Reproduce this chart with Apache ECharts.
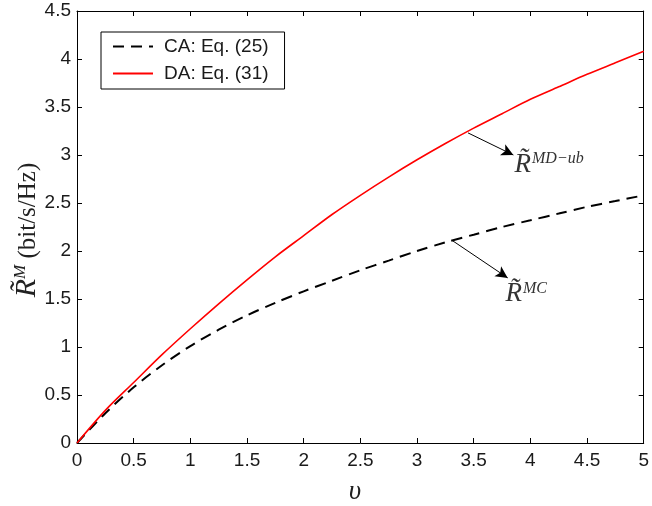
<!DOCTYPE html>
<html>
<head>
<meta charset="utf-8">
<script src="https://cdn.jsdelivr.net/npm/echarts@6/dist/echarts.min.js"></script>
<style>html,body{margin:0;padding:0;background:#fff}#c{width:652px;height:506px}</style>
</head>
<body>
<div id="c"></div>
<script>
// ---- data ----
var nu = [0,0.25,0.5,0.75,1,1.25,1.5,1.75,2,2.25,2.5,2.75,3,3.25,3.5,3.75,4,4.25,4.5,4.75,5];
var caValues = [0,0.31,0.58,0.81,1.01,1.18,1.33,1.46,1.58,1.69,1.80,1.90,2.00,2.09,2.17,2.25,2.32,2.39,2.46,2.52,2.58];
var daValues = [0,0.34,0.63,0.92,1.19,1.45,1.70,1.94,2.16,2.38,2.58,2.77,2.95,3.12,3.28,3.43,3.58,3.71,3.84,3.96,4.08];
var seriesNames = ['CA: Eq. (25)', 'DA: Eq. (31)'];
var xTickLabels = ['0','0.5','1','1.5','2','2.5','3','3.5','4','4.5','5'];
var yTickLabels = ['0','0.5','1','1.5','2','2.5','3','3.5','4','4.5'];

function pairs(xs, ys){ return xs.map(function(x,i){ return [x, ys[i]]; }); }

var chart = echarts.init(document.getElementById('c'), null, {renderer:'canvas'});
var tickFont = {fontFamily:'Liberation Sans, Arial, sans-serif', fontSize:19, color:'#1a1a1a'};
var serif = 'Liberation Serif, Times New Roman, serif';
var richR = {
  r:{fontFamily:serif, fontStyle:'italic', fontSize:27, color:'#333'},
  s:{fontFamily:serif, fontStyle:'italic', fontSize:16, color:'#333', verticalAlign:'top', padding:[0,0,0,1]}
};

function axisBase(pos, isX, showLabel){
  return {
    type:'value', position:pos, min:0, max: isX?5:4.5, interval:0.5,
    axisLine:{show:true, onZero:false, lineStyle:{color:'#000', width:1}},
    axisTick:{show:true, inside:true, length:5, lineStyle:{color:'#000'}},
    splitLine:{show:false},
    axisLabel: showLabel ? Object.assign({show:true, margin: isX?8:6,
      formatter:function(v){ var arr = isX?xTickLabels:yTickLabels; var idx=Math.round(v/0.5); return arr[idx]; }}, tickFont) : {show:false}
  };
}

chart.setOption({
  animation:false,
  backgroundColor:'#fff',
  grid:{left:77, top:11, right:6, bottom:63, containLabel:false},
  xAxis:[axisBase('bottom', true, true), axisBase('top', true, false)],
  yAxis:[axisBase('left', false, true), axisBase('right', false, false)],
  legend:{
    orient:'vertical', left:101, top:32,
    data:seriesNames,
    itemWidth:40, itemHeight:20, itemGap:8,
    padding:[5,16,6,11],
    borderColor:'#000', borderWidth:1, backgroundColor:'#fff',
    itemStyle:{opacity:0},
    textStyle:{fontFamily:'Liberation Sans, Arial, sans-serif', fontSize:19, color:'#1a1a1a', padding:[0,0,0,6]}
  },
  graphic:[
    {type:'text', x:27, y:230, rotation:Math.PI/2,
     style:{text:'{r|R\u0303}{s|M}{t| (bit/s/Hz)}', align:'center', verticalAlign:'middle',
       rich:{r:{fontFamily:serif, fontStyle:'italic', fontSize:30, fill:'#222', verticalAlign:'bottom'},
             s:{fontFamily:serif, fontStyle:'italic', fontSize:17, fill:'#222', verticalAlign:'top'},
             t:{fontFamily:serif, fontSize:25, fill:'#222', verticalAlign:'bottom', padding:[0,0,1,0]}}}},
    {type:'text', x:355, y:492,
     style:{text:'\u03c5', font:'italic 27px Liberation Serif, serif', fill:'#222', align:'center', verticalAlign:'middle'}}
  ],
  series:[
    {name:seriesNames[0], type:'line', data:pairs(nu, caValues), smooth:0.3, symbol:'none',
     lineStyle:{color:'#000', width:2, type:[11,7]}, itemStyle:{color:'#000'},
     markLine:{silent:true, symbol:['none','arrow'], symbolSize:[9,12],
       lineStyle:{color:'#000', width:1, type:'solid'}, label:{show:false},
       data:[[{coord:[3.31,2.11]},{coord:[3.80,1.72]}]]},
     markPoint:{symbol:'circle', symbolSize:0,
       label:{show:true, position:'right', distance:0, formatter:'{r|R\u0303}{s|MC}', rich:richR},
       data:[{coord:[3.78,1.55]}]}
    },
    {name:seriesNames[1], type:'line', data:pairs(nu, daValues), smooth:0.3, symbol:'none',
     lineStyle:{color:'#ff0000', width:1.6, type:'solid'}, itemStyle:{color:'#ff0000'},
     markLine:{silent:true, symbol:['none','arrow'], symbolSize:[9,12],
       lineStyle:{color:'#000', width:1, type:'solid'}, label:{show:false},
       data:[[{coord:[3.45,3.23]},{coord:[3.85,3.00]}]]},
     markPoint:{symbol:'circle', symbolSize:0,
       label:{show:true, position:'right', distance:0, formatter:'{r|R\u0303}{s|MD\u2212ub}', rich:richR},
       data:[{coord:[3.86,2.90]}]}
    }
  ]
});
</script>
</body>
</html>
